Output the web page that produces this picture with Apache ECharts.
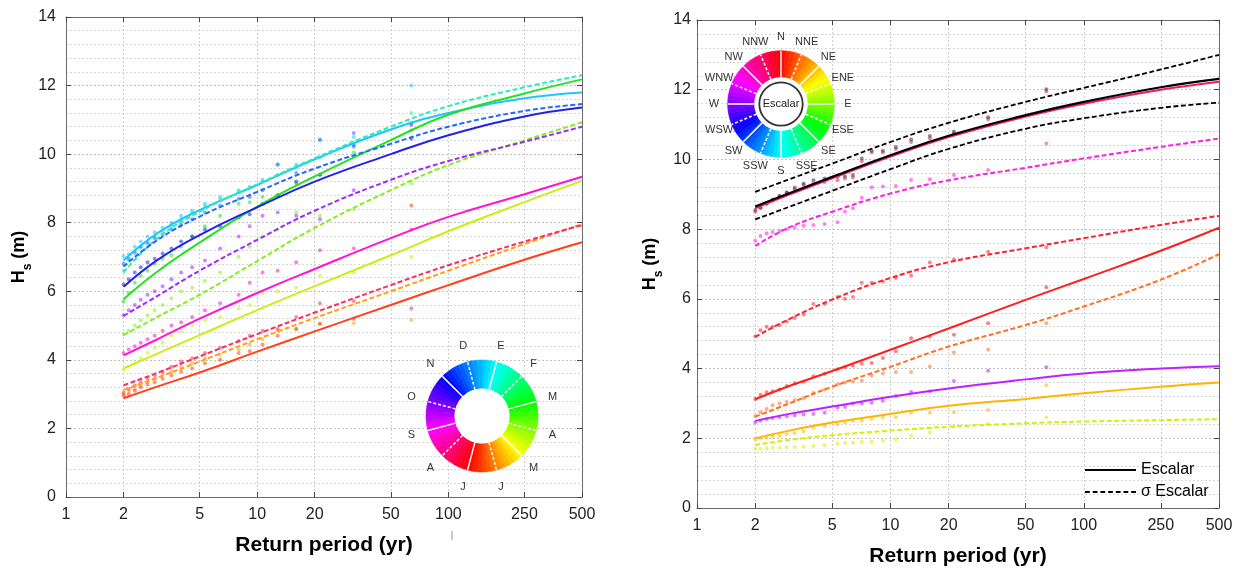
<!DOCTYPE html>
<html><head><meta charset="utf-8">
<script src="https://cdn.jsdelivr.net/npm/echarts@6/dist/echarts.min.js"></script>
<style>html,body{margin:0;padding:0;background:#fff}#c{width:1241px;height:576px}</style>
</head><body><div id="c"></div>
<script>
// ---------- axes ----------
const X_TICKS = [1, 2, 5, 10, 20, 50, 100, 250, 500];
const T_FIT = [2, 3, 5, 10, 20, 50, 100, 250, 500];
const T_EMP_L = [2.0, 2.13, 2.29, 2.46, 2.67, 2.91, 3.2, 3.56, 4.0, 4.57, 5.33, 6.4, 8.0, 9.14, 10.67, 12.8, 16, 21.3, 32, 64];
const T_EMP_R = [2.0, 2.13, 2.29, 2.46, 2.67, 2.91, 3.2, 3.56, 4.0, 4.57, 5.33, 5.82, 6.4, 7.11, 8.0, 9.14, 10.67, 12.8, 16, 21.3, 32, 64];

// ---------- left panel: monthly fits ----------
const L_FIT_ENE = [6.9, 7.69, 8.37, 9.1, 9.85, 10.72, 11.2, 11.63, 11.8];
const L_FIT_FEB = [6.55, 7.54, 8.32, 9.12, 9.88, 10.8, 11.4, 11.95, 12.3];
const L_FIT_MAR = [5.77, 6.57, 7.42, 8.47, 9.35, 10.41, 11.15, 11.77, 12.18];
const L_FIT_ABR = [4.72, 5.25, 5.9, 6.88, 7.85, 8.95, 9.68, 10.4, 10.93];
const L_FIT_MAY = [3.75, 4.18, 4.72, 5.45, 6.15, 7.05, 7.75, 8.6, 9.22];
const L_FIT_JUN = [3.12, 3.48, 3.95, 4.6, 5.22, 6.0, 6.6, 7.38, 7.96];
const L_FIT_JUL = [2.88, 3.22, 3.63, 4.24, 4.83, 5.6, 6.18, 6.92, 7.43];
const L_FIT_AGO = [3.26, 3.62, 4.1, 4.75, 5.38, 6.18, 6.76, 7.45, 7.93];
const L_FIT_SEP = [4.13, 4.6, 5.2, 5.95, 6.65, 7.55, 8.17, 8.83, 9.34];
const L_FIT_OCT = [5.28, 5.86, 6.6, 7.5, 8.35, 9.25, 9.8, 10.36, 10.8];
const L_FIT_NOV = [6.13, 6.91, 7.64, 8.45, 9.2, 10.0, 10.55, 11.1, 11.36];
const L_FIT_DIC = [6.72, 7.49, 8.18, 8.9, 9.58, 10.3, 10.8, 11.26, 11.46];

// left panel: empirical points (at T_EMP_L)
const L_EMP_ENE = [7.02, 7.08, 7.3, 7.45, 7.6, 7.72, 7.85, 8.0, 8.2, 8.35, 8.55, 8.75, 8.95, 9.05, 9.25, 9.7, 9.7, 10.4, 10.5, 12.0];
const L_EMP_FEB = [6.6, 6.9, 7.1, 7.3, 7.45, 7.6, 7.75, 7.9, 8.1, 8.3, 8.5, 8.7, 8.9, 9.0, 9.2, 9.4, 9.6, 9.9, 10.2, 11.2];
const L_EMP_MAR = [5.7, 5.95, 6.25, 6.45, 6.6, 6.8, 6.95, 7.05, 7.3, 7.6, 7.9, 8.2, 8.55, 8.6, 8.75, 8.8, 9.15, 9.4, 10.05, 10.7];
const L_EMP_ABR = [4.75, 4.85, 5.0, 5.15, 5.3, 5.45, 5.6, 5.8, 6.0, 6.1, 6.3, 6.55, 7.0, 7.3, 7.6, 7.8, 8.3, 8.2, 8.4, 9.15];
const L_EMP_MAY = [3.72, 3.8, 3.9, 4.05, 4.2, 4.35, 4.5, 4.7, 4.85, 5.0, 5.15, 5.25, 5.5, 5.6, 5.95, 6.0, 6.1, 6.45, 6.55, 7.0];
const L_EMP_JUN = [3.0, 3.08, 3.15, 3.25, 3.35, 3.45, 3.55, 3.65, 3.8, 3.9, 4.05, 4.15, 4.3, 4.45, 4.6, 4.85, 4.9, 5.05, 5.07, 5.16];
const L_EMP_JUL = [2.95, 3.0, 3.1, 3.2, 3.28, 3.35, 3.45, 3.55, 3.65, 3.75, 3.9, 4.0, 4.2, 4.25, 4.45, 4.7, 4.9, 5.05, 5.2, 8.5];
const L_EMP_AGO = [3.05, 3.15, 3.25, 3.35, 3.45, 3.55, 3.65, 3.8, 3.95, 4.05, 4.2, 4.35, 4.55, 4.7, 4.85, 4.9, 5.25, 5.65, 5.72, 5.5];
const L_EMP_SEP = [4.2, 4.3, 4.4, 4.5, 4.6, 4.7, 4.85, 5.0, 5.1, 5.25, 5.45, 5.65, 5.9, 6.25, 6.55, 6.6, 6.85, 7.2, 7.25, 7.8];
const L_EMP_OCT = [5.3, 5.45, 5.6, 5.75, 5.9, 6.0, 6.15, 6.35, 6.55, 6.7, 6.9, 7.25, 7.6, 7.9, 8.2, 8.3, 8.2, 8.1, 8.95, 10.85];
const L_EMP_NOV = [6.2, 6.35, 6.55, 6.7, 6.85, 6.95, 7.1, 7.25, 7.45, 7.6, 7.8, 7.9, 8.15, 8.25, 8.55, 8.8, 9.2, 9.4, 10.25, 10.45];
const L_EMP_DIC = [6.8, 6.95, 7.15, 7.3, 7.4, 7.55, 7.65, 7.8, 7.95, 8.1, 8.3, 8.5, 8.7, 8.75, 8.95, 9.7, 9.45, 10.43, 10.62, 10.9];

// ---------- right panel: directional fits ----------
const R_FIT_ESC = [8.65, 9.03, 9.5, 10.12, 10.68, 11.27, 11.65, 12.07, 12.31];
const R_FIT_SUP = [9.07, 9.43, 9.88, 10.5, 11.05, 11.65, 12.05, 12.58, 13.0];
const R_FIT_SLO = [8.28, 8.64, 9.1, 9.72, 10.3, 10.88, 11.18, 11.48, 11.63];
const R_FIT_NW = [8.6, 8.99, 9.46, 10.08, 10.64, 11.23, 11.6, 12.0, 12.23];
const R_FIT_WNW = [7.52, 8.05, 8.5, 9.02, 9.4, 9.76, 10.03, 10.36, 10.6];
const R_FIT_NNW = [4.91, 5.42, 5.98, 6.6, 7.05, 7.45, 7.74, 8.12, 8.38];
const R_FIT_N = [3.12, 3.5, 3.93, 4.54, 5.15, 5.97, 6.57, 7.38, 8.04];
const R_FIT_NNE = [2.62, 3.0, 3.48, 4.05, 4.63, 5.25, 5.78, 6.55, 7.28];
const R_FIT_W = [2.5, 2.7, 2.91, 3.19, 3.43, 3.69, 3.86, 4.0, 4.07];
const R_FIT_NE = [2.0, 2.22, 2.45, 2.7, 2.93, 3.13, 3.29, 3.48, 3.6];
const R_FIT_ENE = [1.81, 1.95, 2.09, 2.22, 2.33, 2.43, 2.48, 2.52, 2.55];

// right panel: empirical points (at T_EMP_R)
const R_EMP_ESC = [8.55, 8.62, 8.75, 8.85, 8.95, 9.05, 9.15, 9.3, 9.4, 9.45, 9.5, 9.52, 9.55, 10.03, 10.25, 10.25, 10.36, 10.57, 10.67, 10.8, 11.21, 12.01];
const R_EMP_NW = [8.5, 8.6, 8.72, 8.82, 8.95, 9.05, 9.2, 9.27, 9.3, 9.35, 9.4, 9.45, 9.48, 9.95, 10.2, 10.2, 10.3, 10.5, 10.6, 10.75, 11.15, 11.95];
const R_EMP_WNW = [7.67, 7.8, 7.88, 7.92, 7.95, 8.0, 8.05, 8.1, 8.12, 8.15, 8.2, 8.5, 8.6, 8.9, 9.2, 9.22, 9.24, 9.41, 9.43, 9.55, 9.7, 10.46];
const R_EMP_NNW = [4.93, 5.1, 5.2, 5.2, 5.25, 5.35, 5.45, 5.55, 5.85, 5.85, 6.05, 6.0, 6.05, 6.46, 6.46, 6.5, 6.6, 6.66, 7.04, 7.13, 7.35, 7.48];
const R_EMP_N = [3.13, 3.25, 3.32, 3.35, 3.4, 3.5, 3.58, 3.62, 3.78, 3.85, 3.98, 4.04, 4.08, 4.14, 4.16, 4.3, 4.5, 4.87, 4.92, 4.97, 5.3, 6.33];
const R_EMP_NNE = [2.64, 2.75, 2.85, 2.95, 3.0, 3.05, 3.1, 3.15, 3.3, 3.4, 3.55, 3.6, 3.63, 3.65, 3.8, 3.86, 3.9, 3.9, 4.06, 4.46, 4.55, 5.3];
const R_EMP_W = [2.46, 2.5, 2.55, 2.58, 2.6, 2.63, 2.66, 2.68, 2.7, 2.73, 2.88, 2.9, 3.0, 3.0, 3.02, 3.08, 3.21, 3.33, 3.35, 3.64, 3.94, 4.04];
const R_EMP_NE = [1.98, 2.0, 2.02, 2.05, 2.08, 2.12, 2.15, 2.2, 2.3, 2.35, 2.4, 2.45, 2.5, 2.5, 2.55, 2.6, 2.6, 2.73, 2.73, 2.75, 2.81, 3.52];
const R_EMP_ENE = [1.7, 1.7, 1.71, 1.72, 1.73, 1.74, 1.75, 1.76, 1.78, 1.8, 1.85, 1.87, 1.88, 1.9, 1.9, 1.93, 1.97, 2.07, 2.17, 2.33, 2.42, 2.6];

// wheel labels
const MONTH_LABELS = ['E', 'F', 'M', 'A', 'M', 'J', 'J', 'A', 'S', 'O', 'N', 'D'];
const DIR_LABELS = ['N', 'NNE', 'NE', 'ENE', 'E', 'ESE', 'SE', 'SSE', 'S', 'SSW', 'SW', 'WSW', 'W', 'WNW', 'NW', 'NNW'];

// ---------- helpers ----------
const zip = (xs, ys) => xs.map((x, i) => [x, ys[i]]);
function lineS(ax, name, vals, color, dashed, width, z) {
  return {
    type: 'line', name, xAxisIndex: ax, yAxisIndex: ax, data: zip(T_FIT, vals),
    symbol: 'none', showSymbol: false, smooth: 0.45, silent: true,
    lineStyle: { color, width: width || 2, type: dashed ? [5, 2.5] : 'solid' },
    itemStyle: { color }, z: z || 4
  };
}
function ptS(ax, name, ts, vals, color) {
  return {
    type: 'scatter', name: name + ' obs', xAxisIndex: ax, yAxisIndex: ax, data: zip(ts, vals),
    symbol: 'circle', symbolSize: 4, silent: true,
    itemStyle: { color, opacity: 0.55 }, z: 3
  };
}

const LEFT = [
  ['Enero', L_FIT_ENE, L_EMP_ENE, '#20c4ff', false],
  ['Febrero', L_FIT_FEB, L_EMP_FEB, '#28eeb4', true],
  ['Marzo', L_FIT_MAR, L_EMP_MAR, '#22e222', false],
  ['Abril', L_FIT_ABR, L_EMP_ABR, '#86ee1e', true],
  ['Mayo', L_FIT_MAY, L_EMP_MAY, '#c9ef12', false],
  ['Junio', L_FIT_JUN, L_EMP_JUN, '#ffa010', true],
  ['Julio', L_FIT_JUL, L_EMP_JUL, '#ff4018', false],
  ['Agosto', L_FIT_AGO, L_EMP_AGO, '#ff2a64', true],
  ['Septiembre', L_FIT_SEP, L_EMP_SEP, '#ff14d2', false],
  ['Octubre', L_FIT_OCT, L_EMP_OCT, '#a028ff', true],
  ['Noviembre', L_FIT_NOV, L_EMP_NOV, '#2222e6', false],
  ['Diciembre', L_FIT_DIC, L_EMP_DIC, '#2468ff', true]
];
const RIGHT = [
  ['NW', R_FIT_NW, R_EMP_NW, '#ec1c64', false],
  ['WNW', R_FIT_WNW, R_EMP_WNW, '#ff1ee6', true],
  ['NNW', R_FIT_NNW, R_EMP_NNW, '#ff2030', true],
  ['N', R_FIT_N, R_EMP_N, '#ff1e1e', false],
  ['NNE', R_FIT_NNE, R_EMP_NNE, '#ff7020', true],
  ['W', R_FIT_W, R_EMP_W, '#c21eff', false],
  ['NE', R_FIT_NE, R_EMP_NE, '#ffb400', false],
  ['ENE', R_FIT_ENE, R_EMP_ENE, '#d4f000', true]
];

const series = [];
LEFT.forEach(d => { series.push(ptS(0, d[0], T_EMP_L, d[2], d[3])); series.push(lineS(0, d[0], d[1], d[3], d[4])); });
RIGHT.forEach(d => { series.push(ptS(2, d[0], T_EMP_R, d[2], d[3])); series.push(lineS(2, d[0], d[1], d[3], d[4])); });
series.push(ptS(2, 'Escalar', T_EMP_R, R_EMP_ESC, '#333'));
series.push(lineS(2, 'Escalar', R_FIT_ESC, '#000', false, 2.2, 6));
series.push(lineS(2, 'σ Escalar', R_FIT_SUP, '#000', true, 1.8, 6));
series.push(lineS(2, 'σ Escalar', R_FIT_SLO, '#000', true, 1.8, 6));

// ---------- colour wheels (decoration) ----------
const WL = { cx: 482, cy: 416, r0: 27.5, r1: 56, rl: 73 };
const WR = { cx: 781, cy: 104, r0: 26.7, r1: 53.3, rl: 67 };
function wheelPie(w, hueFn) {
  const data = [];
  for (let k = 0; k < 72; k++) {
    const th = k * 5 + 2.5;
    const c = 'hsl(' + hueFn(th).toFixed(1) + ',100%,50%)';
    data.push({ value: 1, itemStyle: { color: c, borderColor: c, borderWidth: 0.6 } });
  }
  return {
    type: 'pie', center: [w.cx, w.cy], radius: [w.r0, w.r1], startAngle: 90, clockwise: true,
    silent: true, label: { show: false }, labelLine: { show: false }, data, z: 8,
    emphasis: { disabled: true }, animation: false
  };
}
series.push(wheelPie(WL, th => ((195 - th) % 360 + 360) % 360));
series.push(wheelPie(WR, th => th % 360));

const graphic = [];
function pol(w, r, deg) { const a = deg * Math.PI / 180; return [w.cx + r * Math.sin(a), w.cy - r * Math.cos(a)]; }
function wheelDeco(w, n, offset, labels) {
  graphic.push({ type: 'circle', shape: { cx: w.cx, cy: w.cy, r: w.r0 }, style: { fill: '#fff' }, z: 20, silent: true });
  for (let k = 0; k < n; k++) {
    const deg = offset + k * 360 / n;
    const p0 = pol(w, w.r0, deg), p1 = pol(w, w.r1, deg);
    graphic.push({ type: 'line', shape: { x1: p0[0], y1: p0[1], x2: p1[0], y2: p1[1] },
      style: { stroke: '#fff', lineWidth: 1.5, lineDash: k % 2 ? [3, 2] : null }, z: 21, silent: true });
    const pl = pol(w, w.rl, deg);
    graphic.push({ type: 'text', x: pl[0], y: pl[1],
      style: { text: labels[k], fill: '#333', font: '11px "Liberation Sans", Arial, sans-serif', align: 'center', verticalAlign: 'middle' }, z: 21, silent: true });
  }
}
wheelDeco(WL, 12, 15, MONTH_LABELS);
wheelDeco(WR, 16, 0, DIR_LABELS);
graphic.push({ type: 'circle', shape: { cx: WR.cx, cy: WR.cy, r: 21.7 }, style: { fill: '#fff', stroke: '#333', lineWidth: 1.8 }, z: 22, silent: true });
graphic.push({ type: 'text', x: WR.cx, y: WR.cy, style: { text: 'Escalar', fill: '#222', font: '11px "Liberation Sans", Arial, sans-serif', align: 'center', verticalAlign: 'middle' }, z: 23, silent: true });
graphic.push({ type: 'line', shape: { x1: 452, y1: 531, x2: 452, y2: 540 }, style: { stroke: '#999', lineWidth: 1 }, z: 5, silent: true });

// ---------- axes ----------
const FONT = '"Liberation Sans", Arial, sans-serif';
const frame = '#6a6a6a';
function xAx(g, top) {
  return {
    type: 'log', logBase: 10, min: 1, max: 500, gridIndex: g, position: top ? 'top' : 'bottom',
    axisLine: { show: true, onZero: false, lineStyle: { color: frame, width: 1 } },
    axisTick: { show: true, inside: true, length: 5, customValues: X_TICKS, lineStyle: { color: '#444' } },
    axisLabel: { show: !top, customValues: X_TICKS, fontSize: 16, color: '#222', fontFamily: FONT, margin: 10 },
    splitLine: { show: !top, lineStyle: { color: '#cfcfcf', type: [2, 2], width: 1 } },
    minorTick: { show: false }, minorSplitLine: { show: false },
    name: top ? '' : 'Return period (yr)', nameLocation: 'middle', nameGap: 38,
    nameTextStyle: { fontSize: 21, fontWeight: 'bold', color: '#000', fontFamily: FONT }
  };
}
function yAx(g, right, margin) {
  return {
    type: 'value', min: 0, max: 14, interval: 2, gridIndex: g, position: right ? 'right' : 'left',
    axisLine: { show: true, lineStyle: { color: frame, width: 1 } },
    axisTick: { show: true, inside: true, length: 5, lineStyle: { color: '#444' } },
    axisLabel: { show: !right, fontSize: 16, color: '#222', fontFamily: FONT, margin },
    splitLine: { show: !right, lineStyle: { color: '#c4c4c4', type: [2, 2], width: 1 } },
    minorTick: { show: false, splitNumber: 5 },
    minorSplitLine: { show: !right, lineStyle: { color: '#d6d6d6', type: [2, 2], width: 1 } },
    name: right ? '' : '{h|H}{s|s}{h| (m)}', nameLocation: 'middle', nameRotate: 90, nameGap: 36,
    nameTextStyle: { color: '#000', fontFamily: FONT,
      rich: { h: { fontSize: 18, fontWeight: 'bold', fontFamily: FONT, lineHeight: 22, verticalAlign: 'middle' },
              s: { fontSize: 12, fontWeight: 'bold', fontFamily: FONT, lineHeight: 22, verticalAlign: 'bottom', padding: [0, 0, -4, 0] } } }
  };
}

const SOLID_ICON = 'path://M0,0H53V2H0Z';
const DASH_ICON = 'path://M0,0H5V2H0Z M8,0H13V2H8Z M16,0H21V2H16Z M24,0H29V2H24Z M32,0H37V2H32Z M40,0H45V2H40Z M48,0H53V2H48Z';

const option = {
  backgroundColor: '#fff',
  animation: false,
  textStyle: { fontFamily: FONT },
  grid: [
    { left: 66, top: 17, width: 516, height: 480, show: false },
    { left: 697, top: 20, width: 522, height: 488, show: false }
  ],
  xAxis: [xAx(0, false), xAx(0, true), xAx(1, false), xAx(1, true)],
  yAxis: [yAx(0, false, 10), yAx(0, true, 10), yAx(1, false, 6), yAx(1, true, 6)],
  legend: {
    data: [{ name: 'Escalar', icon: SOLID_ICON }, { name: 'σ Escalar', icon: DASH_ICON }],
    orient: 'vertical', left: 1080, top: 457,
    itemWidth: 51, itemHeight: 2.2, itemGap: 6, selectedMode: false,
    itemStyle: { color: '#000', borderWidth: 0 },
    textStyle: { fontSize: 16, color: '#000', fontFamily: FONT, lineHeight: 15 }
  },
  graphic: { elements: graphic },
  series
};
const chart = echarts.init(document.getElementById('c'), null, { renderer: 'canvas' });
chart.setOption(option);
</script></body></html>
